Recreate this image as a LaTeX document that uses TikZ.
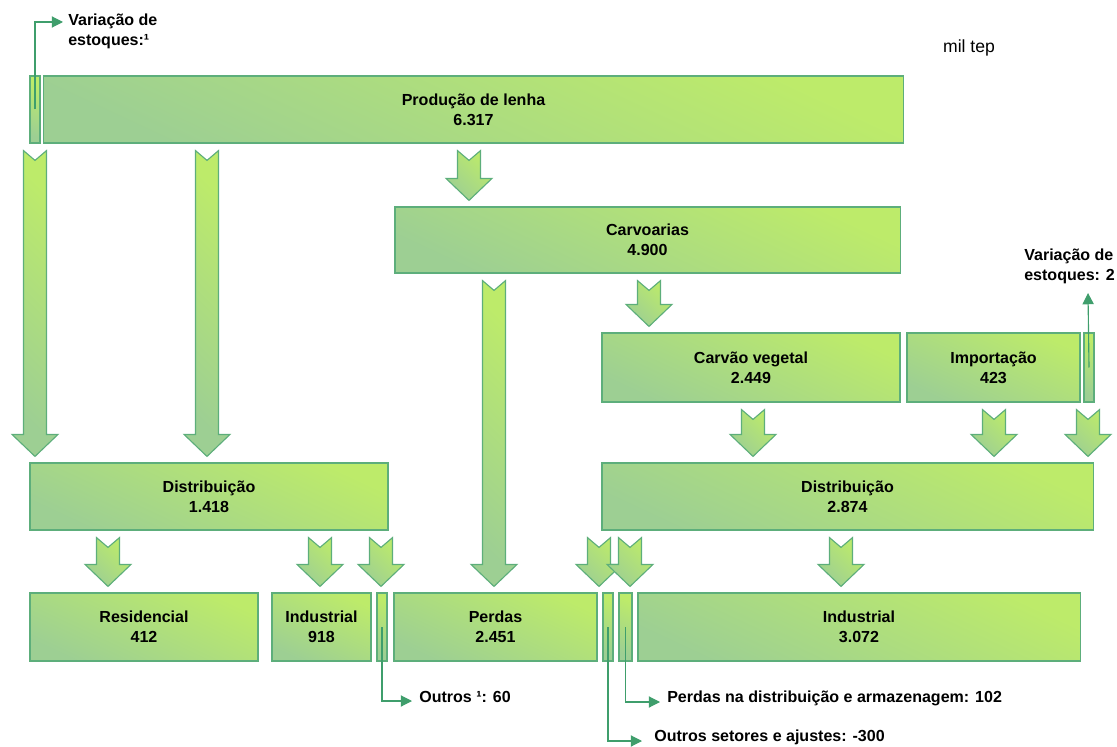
\documentclass[tikz,border=0pt]{standalone}
\usepackage{fontspec}
\setmainfont{Liberation Sans}
\usetikzlibrary{arrows.meta,calc}

\definecolor{verdeclaro}{HTML}{BDEB6A}
\definecolor{verdeescuro}{HTML}{9DCF93}
\definecolor{borda}{HTML}{5DAE7B}
\definecolor{linha}{HTML}{3F9E6C}

% seta larga com entalhe, de um no ao outro, no x dado (px)
\newcommand{\setalarga}[3]{%
\path[larga] let \p1=($(#1,0 |- #2.south)+(0,7)$), \p2=($(#1,0 |- #3.north)+(0,-6)$) in
 ({\x1-8.2pt},\y1) -- (\x1,{\y1-7pt}) -- ({\x1+8.2pt},\y1) -- ({\x1+8.2pt},{\y2+15.6pt})
 -- ({\x1+16.3pt},{\y2+15.6pt}) -- (\x2,\y2) -- ({\x1-16.3pt},{\y2+15.6pt})
 -- ({\x1-8.2pt},{\y2+15.6pt}) -- cycle;}

\begin{document}
\begin{tikzpicture}[x=0.025cm,y=-0.025cm,
  caixa/.style={draw=borda,line width=0.8pt,top color=verdeclaro,bottom color=verdeescuro,shading angle=-25,
    inner sep=0pt,align=center,font=\bfseries\fontsize{11.4}{14.2}\selectfont,minimum height=1.675cm},
  larga/.style={draw=borda,line width=0.8pt,top color=verdeclaro,bottom color=verdeescuro,shading angle=-45},
  fino/.style={draw=linha,line width=0.8pt,-{Triangle[length=8pt,width=8pt]}},
  rotulo/.style={inner sep=0pt,align=left,font=\bfseries\fontsize{11.4}{14.2}\selectfont}]
\useasboundingbox (0,0) rectangle (1117,747);

% caixas
\node[caixa,minimum width=0.25cm] (vesq) at (35,109.5) {};
\node[caixa,minimum width=21.475cm] (prod) at (473.5,109.5) {Produção de lenha\\6.317};
\node[caixa,minimum width=12.625cm,minimum height=1.65cm] (carv) at (647.5,240) {Carvoarias\\4.900};
\node[caixa,minimum width=7.45cm,minimum height=1.725cm] (cveg) at (751,367.5) {Carvão vegetal\\2.449};
\node[caixa,minimum width=4.325cm,minimum height=1.725cm] (imp) at (993.5,367.5) {Importação\\423};
\node[caixa,minimum width=0.25cm,minimum height=1.725cm] (vdir) at (1089,367.5) {};
\node[caixa,minimum width=8.95cm] (distL) at (209,496.5) {Distribuição\\1.418};
\node[caixa,minimum width=12.275cm] (distR) at (847.5,496.5) {Distribuição\\2.874};
\node[caixa,minimum width=5.7cm,minimum height=1.7cm] (res) at (144,627) {Residencial\\412};
\node[caixa,minimum width=2.475cm,minimum height=1.7cm] (ind1) at (321.5,627) {Industrial\\918};
\node[caixa,minimum width=0.25cm,minimum height=1.7cm] (out1) at (382,627) {};
\node[caixa,minimum width=5.075cm,minimum height=1.7cm] (perd) at (495.5,627) {Perdas\\2.451};
\node[caixa,minimum width=0.25cm,minimum height=1.7cm] (outs) at (608,627) {};
\node[caixa,minimum width=0.325cm,minimum height=1.7cm] (pdist) at (625.5,627) {};
\node[caixa,minimum width=11.05cm,minimum height=1.7cm] (ind2) at (859,627) {Industrial\\3.072};

% setas largas
\setalarga{35}{prod}{distL}
\setalarga{207}{prod}{distL}
\setalarga{469}{prod}{carv}
\setalarga{494}{carv}{perd}
\setalarga{649}{carv}{cveg}
\setalarga{753}{cveg}{distR}
\setalarga{994}{imp}{distR}
\setalarga{1088}{vdir}{distR}
\setalarga{108}{distL}{res}
\setalarga{320}{distL}{ind1}
\setalarga{381}{distL}{out1}
\setalarga{599}{distR}{outs}
\setalarga{630}{distR}{pdist}
\setalarga{841}{distR}{ind2}

% textos e setas finas
\node[font=\fontsize{12.5}{15}\selectfont,inner sep=0pt] (unid) at (969,48) {mil tep};
\coordinate (vsp) at (63,22);
\draw[fino] (vesq.center) |- (vsp);
\node[rotulo,anchor=north west] (vtxt) at (68,14) {Variação de\\estoques:¹};
\coordinate (vdp) at (1088,293);
\draw[fino] (vdir.center) -- (vdp);
\node[rotulo,anchor=south west] (vdtxt) at (1024,284) {Variação de\\estoques: 2};
\coordinate (o1) at (412,701);
\draw[fino] (out1.center) |- (o1);
\node[rotulo,anchor=west] (o1txt) at (419,697) {Outros ¹: 60};
\coordinate (o2) at (660,702);
\draw[fino] (pdist.center) |- (o2);
\node[rotulo,anchor=west] (o2txt) at (667,698) {Perdas na distribuição e armazenagem: 102};
\coordinate (o3) at (642,741);
\draw[fino] (outs.center) |- (o3);
\node[rotulo,anchor=west] (o3txt) at (654,737) {Outros setores e ajustes: -300};
\end{tikzpicture}
\end{document}
